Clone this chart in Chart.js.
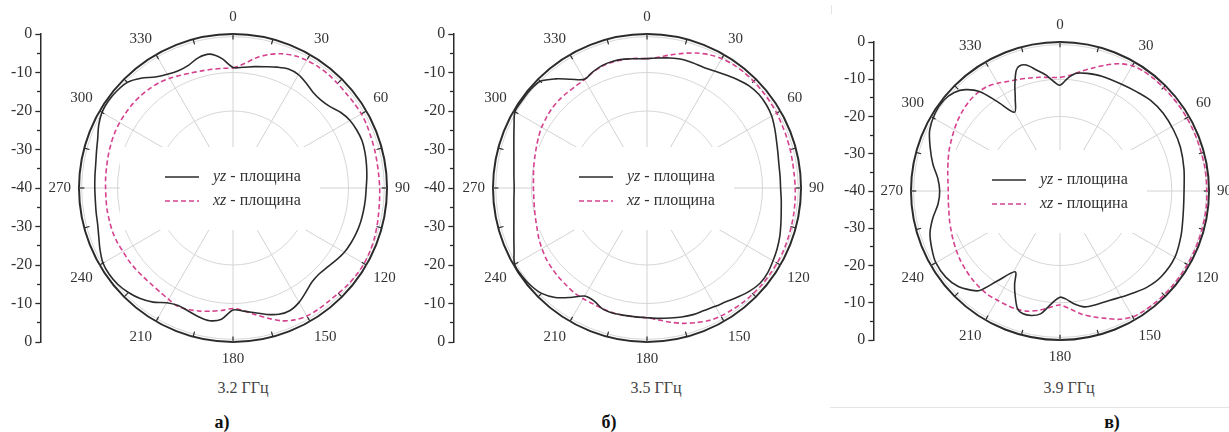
<!DOCTYPE html>
<html>
<head>
<meta charset="utf-8">
<script src="https://cdn.jsdelivr.net/npm/chart.js@4.4.1/dist/chart.umd.min.js"></script>
<style>
  html, body { margin: 0; padding: 0; background: #fff; }
  #page { position: relative; width: 1229px; height: 432px; overflow: hidden; background: #fff; }
  #page canvas { position: absolute; }
  .cap { position: absolute; transform: translate(-50%, -50%); font-family: 'Liberation Serif', serif; font-size: 16px; color: #444; white-space: nowrap; }
  .tag { position: absolute; transform: translate(-50%, -50%); font-family: 'Liberation Serif', serif; font-size: 18px; font-weight: bold; color: #111; white-space: nowrap; }
  .rule { position: absolute; background: #e4e4e4; }
</style>
</head>
<body>
<div id="page"></div>
<script>
// ---- categories: one direction per degree, labelled every 30 degrees ----
const degrees = Array.from({ length: 360 }, (_, i) => i);
const angleTicks = [0, 30, 60, 90, 120, 150, 180, 210, 240, 270, 300, 330];
const step5 = Array.from({ length: 72 }, (_, i) => i * 5);

// radial grid rings (dB) and the ticks of the side dB scale
const ringLevels = [-40, -30, -20, -10, -0.7, 0];
const sideMajor = [-40, -30, -20, -10, 0, 10, 20, 30, 40];
const sideMinor = [-35, -25, -15, -5, 5, 15, 25, 35];

// ---- 3.2 GHz, sampled every 5 degrees (dB) ----
const yz32 = [-8.7, -8.5, -8.0, -7.4, -6.6, -5.9, -6.0, -6.8, -7.6, -7.7, -7.1, -5.8,
              -4.9, -4.5, -4.3, -4.5, -4.8, -5.1, -5.4, -5.5, -5.6, -5.7, -5.9, -6.2,
              -6.6, -7.3, -8.0, -8.4, -8.1, -7.0, -5.7, -4.9, -5.1, -6.0, -7.1, -7.9,
              -8.3, -5.8, -5.0, -5.4, -6.0, -6.3, -5.6, -3.8, -2.5, -1.6, -1.0, -0.8,
              -1.0, -1.9, -2.9, -3.6, -3.9, -4.1, -4.1, -4.0, -3.8, -3.3, -2.6, -1.5,
              -0.7, -0.5, -0.7, -1.2, -2.8, -4.8, -5.9, -6.4, -6.1, -5.0, -4.7, -6.2];
const xz32 = [-8.8, -7.6, -5.7, -4.1, -2.9, -2.1, -1.7, -1.5, -1.5, -1.6, -1.7, -1.6,
              -1.5, -1.6, -1.8, -1.9, -2.0, -2.0, -1.9, -1.8, -1.6, -1.3, -1.0, -0.8,
              -0.7, -0.8, -1.0, -1.3, -1.5, -1.5, -1.6, -2.2, -3.3, -5.0, -6.6, -8.0,
              -8.7, -8.1, -7.5, -6.9, -6.4, -6.1, -6.6, -7.0, -7.2, -7.2, -7.1, -7.0,
              -7.0, -6.8, -6.7, -6.8, -6.8, -6.9, -6.9, -6.8, -6.7, -6.5, -6.3, -6.1,
              -6.0, -6.0, -6.0, -6.1, -6.3, -6.6, -7.1, -7.7, -8.2, -8.5, -8.7, -8.8];

// ---- 3.5 GHz, sampled every 5 degrees (dB) ----
const yz35 = [-6.4, -6.1, -5.7, -5.4, -5.4, -5.4, -4.9, -4.2, -3.3, -2.5, -2.1, -2.2,
              -2.6, -3.4, -4.2, -4.8, -5.2, -5.3, -5.3, -5.0, -4.6, -4.0, -3.3, -2.7,
              -2.2, -1.7, -1.6, -2.2, -3.1, -4.0, -4.5, -4.9, -5.0, -5.3, -5.7, -6.0,
              -6.3, -6.4, -6.4, -6.3, -6.5, -7.6, -7.6, -5.3, -2.9, -1.3, -0.6, -0.3,
              -0.3, -1.9, -3.2, -4.2, -4.9, -5.3, -5.5, -5.3, -4.9, -4.2, -3.2, -1.9,
              -0.4, -0.4, -0.4, -0.8, -3.0, -5.5, -7.4, -6.7, -6.1, -5.9, -6.0, -6.3];
const xz35 = [-6.4, -5.9, -4.9, -3.8, -2.7, -1.8, -1.2, -0.9, -0.8, -0.8, -0.9, -1.0,
              -1.1, -1.3, -1.4, -1.5, -1.6, -1.6, -1.5, -1.4, -1.3, -1.2, -1.1, -1.0,
              -1.0, -1.0, -1.0, -1.1, -1.2, -1.4, -1.6, -2.0, -2.8, -3.6, -4.6, -5.6,
              -6.3, -6.4, -6.4, -6.4, -6.6, -6.8, -6.8, -6.9, -7.2, -7.4, -7.7, -8.0,
              -8.5, -9.0, -9.6, -10.0, -10.3, -10.5, -10.5, -10.4, -10.1, -9.8, -9.4, -8.9,
              -8.4, -8.1, -7.8, -7.7, -7.7, -7.7, -7.5, -6.8, -6.3, -6.1, -6.1, -6.2];

// ---- 3.9 GHz (dB); yz plane sampled densely around its two deep notches ----
const yz39Angles = [0, 4, 8, 13, 20, 30, 38, 45, 53, 62, 70, 80, 90, 100, 110, 120, 130, 138, 147, 155,
                    163, 168, 173, 177, 180, 183, 186, 189, 193, 197, 200, 204, 206, 209, 215, 219, 222, 227, 233, 240,
                    246, 252, 258, 264, 270, 276, 282, 289, 295, 302, 308, 313, 317, 321, 325, 330, 334, 337, 340, 342,
                    345, 349, 353, 357];
const yz39 = [-11.6, -9.6, -8.1, -7.6, -7.2, -6.9, -6.3, -5.6, -5.3, -5.4, -5.6, -6.2, -6.7, -6.4, -5.4, -4.4, -4.4, -5.2, -6.7, -7.7,
              -8.0, -8.2, -9.5, -11.0, -11.5, -10.4, -8.6, -6.6, -5.7, -5.6, -6.5, -10.2, -12.2, -15.2, -10.4, -5.6, -4.2, -2.5, -1.6, -1.5,
              -2.3, -3.3, -5.1, -7.1, -7.7, -7.0, -5.1, -3.1, -1.4, -0.5, -0.4, -1.2, -2.8, -5.6, -10.7, -15.6, -12.6, -9.0, -5.6, -4.7,
              -5.0, -6.9, -8.6, -10.7];
const xz39 = [-9.5, -8.8, -7.4, -5.8, -4.0, -2.3, -1.2, -0.8, -0.7, -0.7, -0.7, -0.7,
              -0.7, -0.7, -0.7, -0.7, -0.6, -0.6, -0.6, -0.5, -0.5, -0.5, -0.5, -0.5,
              -0.5, -0.5, -0.5, -0.5, -0.6, -0.7, -1.0, -2.0, -3.6, -5.0, -6.4, -8.2,
              -9.4, -8.6, -7.5, -6.6, -6.2, -6.2, -6.2, -6.1, -6.3, -6.6, -7.0, -7.4,
              -7.9, -8.4, -8.9, -9.3, -9.7, -9.9, -10.0, -9.8, -9.4, -8.9, -8.3, -7.8,
              -7.2, -6.6, -6.1, -5.7, -5.6, -5.8, -6.6, -7.5, -8.1, -8.6, -9.0, -9.4];

const legendText = ['yz - площина', 'xz - площина'];
const frequencies = ['3.2 ГГц', '3.5 ГГц', '3.9 ГГц'];
const panelTags = ['а)', 'б)', 'в)'];

// ---- styling ----
const SERIF = "'Liberation Serif', serif";
const INK = '#2b2b2b';
const PINK = '#d4418e';
const PAGE_H = 432;
const LABEL_PAD = 8;      // gap between ring and direction labels
const LABEL_SIZE = 15;    // direction label font size (line height 1.2)

const panels = [
  { cx: 233,  cy: 188, r: 154, axisX: 40,  capX: 243,  tagX: 222,
    yz: [step5, yz32], xz: [step5, xz32] },
  { cx: 647,  cy: 188, r: 154, axisX: 453, capX: 656,  tagX: 609,
    yz: [step5, yz35], xz: [step5, xz35] },
  { cx: 1060, cy: 191, r: 149, axisX: 873, capX: 1069, tagX: 1112,
    yz: [yz39Angles, yz39], xz: [step5, xz39] }
];

// place sampled directions onto the one-degree category grid
function onDegreeGrid(angles, values) {
  const out = degrees.map(() => null);
  angles.forEach((a, i) => { out[a] = values[i]; });
  return out;
}

// outer ring ticks every 15 degrees and the boxed legend in the middle
const polarFrame = {
  id: 'polarFrame',
  beforeDatasetsDraw(chart) {
    const s = chart.scales.r;
    const ctx = chart.ctx;
    ctx.save();
    ctx.strokeStyle = INK;
    ctx.lineWidth = 1.2;
    for (let i = 0; i < degrees.length; i += 15) {
      const p0 = s.getPointPositionForValue(i, -1.4);
      const p1 = s.getPointPositionForValue(i, 0);
      ctx.beginPath();
      ctx.moveTo(p0.x, p0.y);
      ctx.lineTo(p1.x, p1.y);
      ctx.stroke();
    }
    // white legend panel covering the grid centre
    ctx.fillStyle = '#fff';
    ctx.fillRect(s.xCenter - 113, s.yCenter - 41, 200, 83);
    const rows = [-11, 13];
    chart.data.datasets.forEach((ds, k) => {
      const y = s.yCenter + rows[k];
      ctx.strokeStyle = ds.borderColor;
      ctx.lineWidth = ds.borderWidth;
      ctx.setLineDash(ds.borderDash || []);
      ctx.beginPath();
      ctx.moveTo(s.xCenter - 68, y);
      ctx.lineTo(s.xCenter - 34, y);
      ctx.stroke();
      ctx.setLineDash([]);
      const cut = ds.label.indexOf(' ');
      const plane = ds.label.slice(0, cut);
      const rest = ds.label.slice(cut);
      ctx.fillStyle = '#333';
      ctx.textAlign = 'left';
      ctx.textBaseline = 'middle';
      const tx = s.xCenter - 20;
      ctx.font = 'italic 16px ' + SERIF;
      ctx.fillText(plane, tx, y);
      const w = ctx.measureText(plane).width;
      ctx.font = '16px ' + SERIF;
      ctx.fillText(rest, tx + w, y);
    });
    ctx.restore();
  }
};

const page = document.getElementById('page');

function addCanvas(left, top, w, h) {
  const c = document.createElement('canvas');
  c.width = w; c.height = h;
  c.style.left = left + 'px'; c.style.top = top + 'px';
  c.style.width = w + 'px'; c.style.height = h + 'px';
  page.appendChild(c);
  return c;
}

function addText(cls, text, x, y) {
  const d = document.createElement('div');
  d.className = cls;
  d.textContent = text;
  d.style.left = x + 'px';
  d.style.top = y + 'px';
  page.appendChild(d);
}

// one vertical dB scale (-40 in the middle, 0 at both ends of the ring diameter)
function sideScale(p, ringTop, ringBottom, levels, tickLength, withLabels) {
  const c = addCanvas(0, 0, 70, PAGE_H);
  const chart = new Chart(c, {
    type: 'line',
    data: { labels: [], datasets: [] },
    options: {
      responsive: false,
      animation: false,
      events: [],
      layout: { padding: { top: ringTop, bottom: PAGE_H - ringBottom, left: 0, right: 0 } },
      plugins: { legend: { display: false }, tooltip: { enabled: false } },
      scales: {
        x: { display: false },
        y: {
          position: 'left', min: -40, max: 40,
          afterBuildTicks: (sc) => { sc.ticks = levels.map(v => ({ value: v })); },
          ticks: {
            display: true, autoSkip: false, padding: 3, color: '#333',
            font: { family: SERIF, size: 16 },
            callback: (v) => withLabels ? String(Math.abs(v) - 40) : ''
          },
          grid: { drawOnChartArea: false, drawTicks: true, tickLength: tickLength, tickColor: INK, tickWidth: 1.3 },
          border: { display: withLabels, color: INK, width: 1.5 }
        }
      }
    }
  });
  c.style.left = (p.axisX - chart.scales.y.right) + 'px';
  return chart;
}

panels.forEach((p, n) => {
  // radar canvas sized so the 0 dB ring gets radius p.r around (cx, cy)
  const margin = LABEL_PAD + LABEL_SIZE * 1.2;
  const H = Math.round(2 * (p.r + margin));
  const W = 460;
  const canvas = addCanvas(p.cx - W / 2, p.cy - H / 2, W, H);

  const radar = new Chart(canvas, {
    type: 'radar',
    data: {
      labels: degrees.map(String),
      datasets: [
        { label: legendText[0], data: onDegreeGrid(p.yz[0], p.yz[1]),
          borderColor: INK, borderWidth: 1.6, fill: false, tension: 0.3, spanGaps: true,
          pointRadius: 0, pointHoverRadius: 0, pointHitRadius: 0 },
        { label: legendText[1], data: onDegreeGrid(p.xz[0], p.xz[1]),
          borderColor: PINK, borderWidth: 1.6, borderDash: [5, 3], fill: false, tension: 0.3, spanGaps: true,
          pointRadius: 0, pointHoverRadius: 0, pointHitRadius: 0 }
      ]
    },
    options: {
      responsive: false,
      animation: false,
      events: [],
      layout: { padding: 0 },
      plugins: { legend: { display: false }, tooltip: { enabled: false } },
      scales: {
        r: {
          min: -40, max: 0, startAngle: 0,
          afterBuildTicks: (s) => { s.ticks = ringLevels.map(v => ({ value: v })); },
          ticks: { display: false },
          grid: {
            circular: true,
            color: (c) => c.tick.value === 0 ? INK : (c.tick.value === -40 ? 'rgba(0,0,0,0)' : '#d6d6d6'),
            lineWidth: (c) => c.tick.value === 0 ? 2 : 1
          },
          angleLines: {
            display: true,
            color: (c) => angleTicks.includes(c.index) ? '#d2d2d2' : 'rgba(0,0,0,0)',
            lineWidth: (c) => angleTicks.includes(c.index) ? 1 : 0
          },
          pointLabels: {
            display: true,
            padding: LABEL_PAD,
            color: '#333',
            font: { family: SERIF, size: LABEL_SIZE, lineHeight: 1.2 },
            callback: (label, i) => angleTicks.includes(i) ? label : ''
          }
        }
      }
    },
    plugins: [polarFrame]
  });

  // side dB scale spanning the 0 dB ring from top to bottom
  const s = radar.scales.r;
  const canvasTop = p.cy - H / 2;
  const ringTop = canvasTop + s.yCenter - s.drawingArea;
  const ringBottom = canvasTop + s.yCenter + s.drawingArea;
  sideScale(p, ringTop, ringBottom, sideMajor, 5, true);
  sideScale(p, ringTop, ringBottom, sideMinor, 3, false);

  addText('cap', frequencies[n], p.capX, 388);
  addText('tag', panelTags[n], p.tagX, 422);
});

// faint frame edges of the third figure
[[831, 5, 1, 9], [830, 407, 399, 1]].forEach(([x, y, w, h]) => {
  const d = document.createElement('div');
  d.className = 'rule';
  Object.assign(d.style, { left: x + 'px', top: y + 'px', width: w + 'px', height: h + 'px' });
  page.appendChild(d);
});
</script>
</body>
</html>
